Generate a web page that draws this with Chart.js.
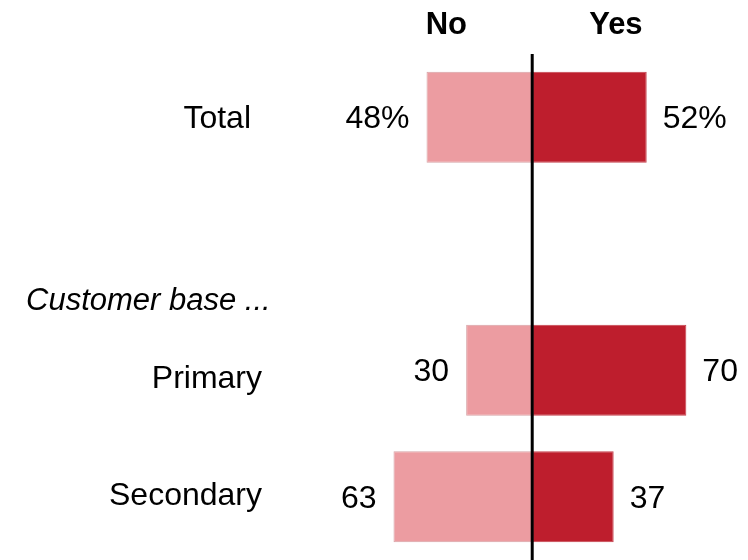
<!DOCTYPE html>
<html>
<head>
<meta charset="utf-8">
<script src="https://cdn.jsdelivr.net/npm/chart.js@4/dist/chart.umd.min.js"></script>
<style>
  html, body { margin: 0; padding: 0; background: #fff; }
  #wrap { width: 748px; height: 560px; position: relative; }
</style>
</head>
<body>
<div id="wrap"><canvas id="survey"></canvas></div>
<script>
// rows (empty slot keeps the gap before the customer base group)
const categories = ['Total', '', 'Primary', 'Secondary'];
const noValues = [48, null, 30, 63];
const yesValues = [52, null, 70, 37];
const valueSuffix = ['%', '', '', ''];
const headerNo = 'No';
const headerYes = 'Yes';
const groupTitle = 'Customer base ...';

const FONT = '"Liberation Sans", Arial, sans-serif';

// black line at zero, headers, row names and value labels
const decorations = {
  id: 'decorations',
  afterDatasetsDraw(chart) {
    const { ctx, chartArea, scales } = chart;
    const x0 = scales.x.getPixelForValue(0);

    ctx.save();
    ctx.strokeStyle = '#000';
    ctx.lineWidth = 3;
    ctx.beginPath();
    ctx.moveTo(x0, chartArea.top);
    ctx.lineTo(x0, chart.height);
    ctx.stroke();

    ctx.fillStyle = '#000';
    ctx.textBaseline = 'middle';

    ctx.font = 'bold 31px ' + FONT;
    ctx.textAlign = 'center';
    ctx.fillText(headerNo, scales.x.getPixelForValue(-39), 25);
    ctx.fillText(headerYes, scales.x.getPixelForValue(38), 25);

    ctx.font = 'italic 31px ' + FONT;
    ctx.textAlign = 'left';
    ctx.fillText(groupTitle, 26, 301);

    // row names sit a little off the bar centre in places
    const shift = [[-11, 2], [0, 0], [0, 9], [0, -1]];
    ctx.font = '32px ' + FONT;
    ctx.textAlign = 'right';
    categories.forEach((name, i) => {
      if (!name) return;
      ctx.fillText(name, 262 + shift[i][0], scales.y.getPixelForValue(i) + shift[i][1]);
    });

    // numbers beside each bar
    chart.data.datasets.forEach((ds, di) => {
      const meta = chart.getDatasetMeta(di);
      meta.data.forEach((bar, i) => {
        const raw = di === 0 ? noValues[i] : yesValues[i];
        if (raw == null) return;
        const txt = raw + valueSuffix[i];
        if (di === 0) {
          ctx.textAlign = 'right';
          ctx.fillText(txt, bar.x - 17, bar.y + 2);
        } else {
          ctx.textAlign = 'left';
          ctx.fillText(txt, bar.x + 16, bar.y + 2);
        }
      });
    });
    ctx.restore();
  }
};

new Chart(document.getElementById('survey'), {
  type: 'bar',
  data: {
    labels: categories,
    datasets: [
      {
        label: headerNo,
        data: noValues.map(v => (v == null ? null : -v)),
        backgroundColor: '#ec9ca1',
        borderColor: '#d7a3a6',
        borderWidth: 1,
        borderSkipped: false
      },
      {
        label: headerYes,
        data: yesValues,
        backgroundColor: '#be1e2d',
        borderColor: '#c4404c',
        borderWidth: 1,
        borderSkipped: false
      }
    ]
  },
  options: {
    indexAxis: 'y',
    responsive: true,
    maintainAspectRatio: false,
    animation: false,
    layout: { padding: { left: 290, right: 0, top: 54, bottom: 0 } },
    datasets: { bar: { categoryPercentage: 1, barPercentage: 0.72 } },
    scales: {
      x: { display: false, stacked: true, min: -110, max: 98 },
      y: { display: false, stacked: true }
    },
    plugins: {
      legend: { display: false },
      tooltip: { enabled: false }
    }
  },
  plugins: [decorations]
});
</script>
</body>
</html>
